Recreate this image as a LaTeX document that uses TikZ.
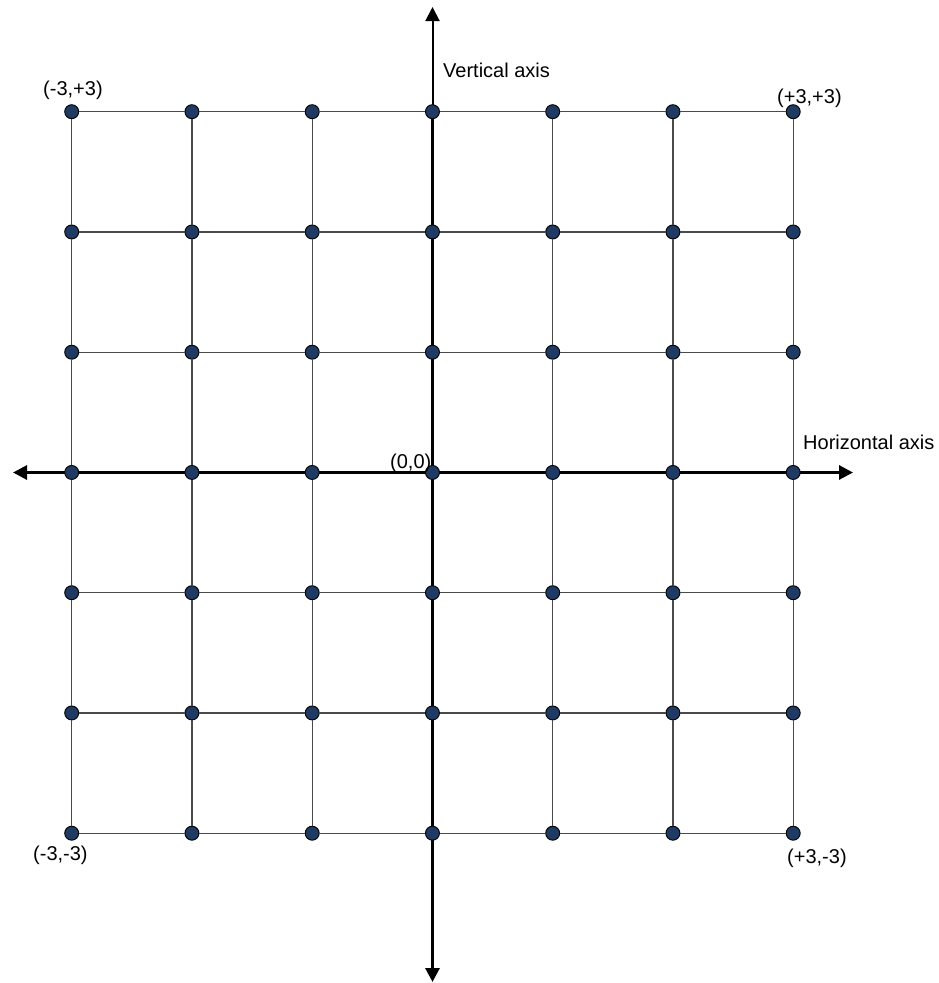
\documentclass[tikz,border=0pt]{standalone}
\usepackage{fontspec}
\setmainfont{Liberation Sans}
\usetikzlibrary{arrows.meta}
\definecolor{dotblue}{HTML}{1F3A63}
\definecolor{gridgray}{HTML}{4A4A4A}
\begin{document}
\begin{tikzpicture}[x=1pt,y=-1pt,
 dot/.style={circle,draw=black,fill=dotblue,line width=0.9pt,minimum size=14pt,inner sep=0pt},
 gridline/.style={draw=gridgray,line width=1.1pt},
 tip/.tip={Triangle[length=14pt,width=14pt]},
 lbl/.style={font=\fontsize{20}{24}\selectfont,anchor=base west,inner sep=0pt}]
\useasboundingbox (0,0) rectangle (938,983);
% axis end points
\coordinate (xl) at (13,472.5);
\coordinate (xr) at (853,472.5);
\coordinate (yt) at (432.5,7);
\coordinate (ym) at (432.5,111.7);
\coordinate (yb) at (432.5,982);
\draw[line width=3pt,tip-tip] (xl) -- (xr);
\draw[line width=3pt,-tip] (ym) -- (yb);
\draw[line width=2pt,-tip] (ym) -- (yt);
% dots
\foreach \i in {0,...,6}
  \foreach \j in {0,...,6}
    \node[dot] (d\i\j) at ({71.7+120.25*\i},{111.7+120.25*\j}) {};
% grid lines
\foreach \j in {0,1,2,4,5,6}
  \foreach \a/\b in {0/1,1/2,2/3,3/4,4/5,5/6}
    \draw[gridline] (d\a\j) -- (d\b\j);
\foreach \i in {0,1,2,4,5,6}
  \foreach \a/\b in {0/1,1/2,2/3,3/4,4/5,5/6}
    \draw[gridline] (d\i\a) -- (d\i\b);
% labels
\node[lbl] (lv) at (443,77) {Vertical axis};
\node[lbl] (lh) at (803,449) {Horizontal axis};
\node[lbl] (lo) at (390,468) {(0,0)};
\node[lbl] (ltl) at (43,95) {(-3,+3)};
\node[lbl] (ltr) at (777,103) {(+3,+3)};
\node[lbl] (lbl1) at (33,860) {(-3,-3)};
\node[lbl] (lbr) at (787,863) {(+3,-3)};
\end{tikzpicture}
\end{document}
